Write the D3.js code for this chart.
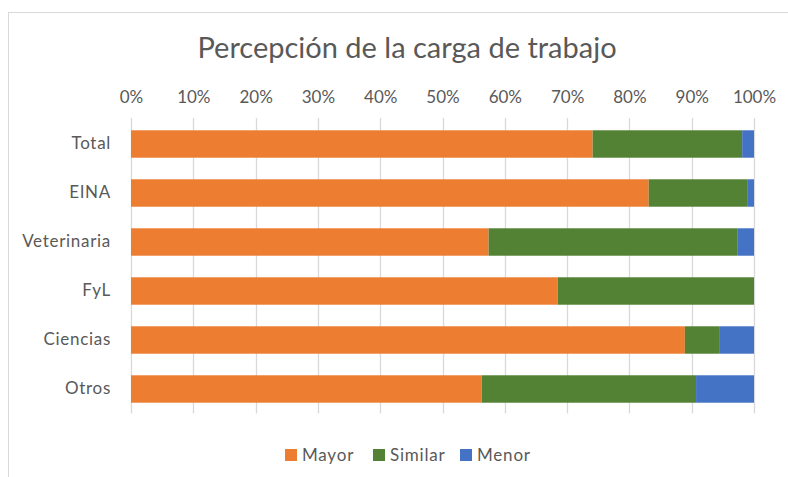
<!DOCTYPE html>
<html>
<head>
<meta charset="utf-8">
<script src="https://cdn.jsdelivr.net/npm/d3@7"></script>
<style>
  body { margin: 0; background: #fff; }
  text { font-family: Lato, "Open Sans", sans-serif; fill: #595959; }
</style>
</head>
<body>
<div id="chart"></div>
<script>

var categories = ["Total", "EINA", "Veterinaria", "FyL", "Ciencias", "Otros"];
var keys = ["Mayor", "Similar", "Menor"];
var mayor   = [74.1, 83.1, 57.4, 68.5, 88.9, 56.3];
var similar = [24.0, 15.8, 39.9, 31.5, 5.5, 34.4];
var menor   = [1.9, 1.1, 2.7, 0, 5.6, 9.3];
var tickValues = [0, 10, 20, 30, 40, 50, 60, 70, 80, 90, 100];

var W = 788, H = 477;
var margin = { top: 119.5, right: 34, bottom: 63.5, left: 131 },
    width = W - margin.left - margin.right,
    height = H - margin.top - margin.bottom;

var color = d3.scaleOrdinal()
    .domain(keys)
    .range(["#ED7D31", "#548235", "#4472C4"]);

// build rows for the stack
var rows = categories.map(function(c, i) {
    return { cat: c, Mayor: mayor[i], Similar: similar[i], Menor: menor[i] };
});

var series = d3.stack().keys(keys)(rows);

var x = d3.scaleLinear().domain([0, 100]).range([0, width]);
var y = d3.scaleBand().domain(categories).range([0, height]).paddingInner(0.44).paddingOuter(0.22);

var svg = d3.select("#chart").append("svg")
    .attr("width", W)
    .attr("height", H);

// chart border
svg.append("rect")
    .attr("x", 8.5)
    .attr("y", 12.5)
    .attr("width", W)
    .attr("height", H)
    .attr("fill", "none")
    .attr("stroke", "#d9d9d9");

svg.append("text")
    .attr("x", 407)
    .attr("y", 58)
    .attr("text-anchor", "middle")
    .style("font-size", "29px")
    .text("Percepción de la carga de trabajo");

var g = svg.append("g")
    .attr("transform", "translate(" + margin.left + "," + margin.top + ")");

// gridlines
g.append("g")
    .selectAll("line")
    .data(tickValues)
    .enter().append("line")
    .attr("x1", function(d) { return Math.round(x(d)) + 0.5; })
    .attr("x2", function(d) { return Math.round(x(d)) + 0.5; })
    .attr("y1", -1.5)
    .attr("y2", height)
    .attr("stroke", "#d9d9d9")
    .attr("stroke-width", 1.3);

// top axis labels
var xAxis = g.append("g")
    .call(d3.axisTop(x).tickValues(tickValues).tickSize(0).tickPadding(17)
        .tickFormat(function(d) { return d + "%"; }));
xAxis.select(".domain").remove();
xAxis.selectAll("text")
    .style("font-size", "17px")
    .attr("fill", "#595959");

// category labels
var yAxis = g.append("g")
    .call(d3.axisLeft(y).tickSize(0).tickPadding(20));
yAxis.select(".domain").remove();
yAxis.selectAll("text")
    .style("font-size", "17px")
    .style("letter-spacing", "0.7px")
    .attr("fill", "#595959");

g.append("g")
    .selectAll("g")
    .data(series)
    .enter().append("g")
    .attr("fill", function(d) { return color(d.key); })
    .selectAll("rect")
    .data(function(d) { return d; })
    .enter().append("rect")
    .attr("x", function(d) { return x(d[0]); })
    .attr("y", function(d) { return y(d.data.cat); })
    .attr("width", function(d) { return x(d[1]) - x(d[0]); })
    .attr("height", y.bandwidth());

// legend
var legendX = [285, 373, 460];
var legend = svg.append("g")
    .selectAll("g")
    .data(keys)
    .enter().append("g")
    .attr("transform", function(d, i) { return "translate(" + legendX[i] + ",449)"; });

legend.append("rect")
    .attr("width", 12)
    .attr("height", 12)
    .attr("fill", function(d) { return color(d); });

legend.append("text")
    .attr("x", 17)
    .attr("y", 6)
    .attr("dy", "0.35em")
    .style("font-size", "17px")
    .style("letter-spacing", "0.8px")
    .text(function(d) { return d; });

</script>
</body>
</html>
